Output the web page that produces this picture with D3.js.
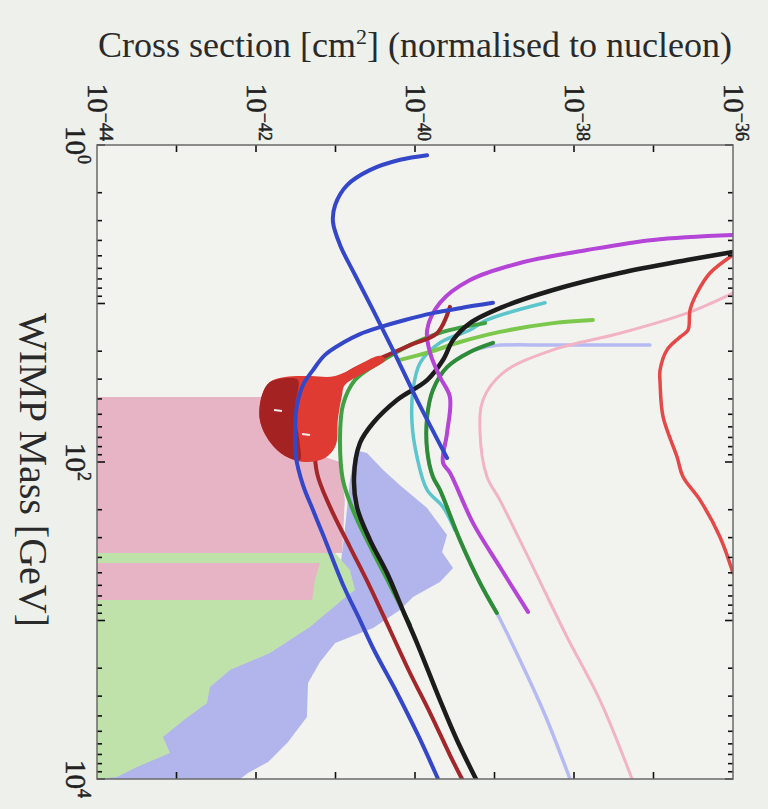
<!DOCTYPE html>
<html>
<head>
<meta charset="utf-8">
<script src="https://cdn.jsdelivr.net/npm/d3@7"></script>
<style>
  body { margin: 0; background: #eef0eb; }
  svg { display: block; font-family: "Liberation Serif", "DejaVu Serif", serif; }
</style>
</head>
<body>
<svg id="chart" width="768" height="809"></svg>
<script>
// every point is [WIMP mass in GeV, cross section in cm^2]
const blueTop = [[1.16,1.42e-40],[1.24,6.5e-41],[1.44,2.7e-41],[1.79,1.4e-41],[2.39,9.9e-42],[3.06,9.3e-42],[4.27,1.14e-41],[6.61,1.76e-41],[11.0,2.97e-41],[19.6,5.28e-41],[40.6,1.06e-40],[67.6,1.79e-40],[94.4,2.53e-40]];
const blueLow = [[9.9,9.57e-40],[10.7,3.68e-40],[11.5,1.68e-40],[12.7,7.48e-41],[14.1,3.63e-41],[15.6,2.03e-41],[17.7,1.24e-41],[21.1,7.38e-42],[26.3,5.21e-42],[32.7,3.9e-42],[43.7,3.28e-42],[62.8,3.1e-42],[93.0,3.18e-42],[140,3.9e-42],[201,5.21e-42],[297,7.16e-42],[615,1.28e-41],[993,2.03e-41],[1535,3.05e-41],[2866,5.94e-41],[5275,1.09e-40],[10000,1.95e-40]];
const maroon = [[10.5,2.75e-40],[15.4,1.89e-40],[18.3,8.65e-41],[21.8,3.95e-41],[27.0,1.52e-41],[35.1,8.53e-42],[47.0,6.38e-42],[72.6,5.52e-42],[117,5.85e-42],[192,8.53e-42],[344,1.52e-41],[615,2.72e-41],[1148,4.85e-41],[2144,8.65e-41],[3835,1.55e-40],[7059,2.75e-40],[10000,3.9e-40]];
const black = [[4.73,1e-36],[5.32,2.64e-37],[6.42,3.79e-38],[8.22,5.45e-39],[10.5,1.28e-39],[13.3,4.92e-40],[17.0,3.01e-40],[22.7,2.25e-40],[30.4,1.42e-40],[40.6,5.94e-41],[56.7,2.97e-41],[75.9,2.03e-41],[124,1.71e-41],[192,1.86e-41],[311,2.72e-41],[502,4.45e-41],[897,7.28e-41],[1387,1.06e-40],[3176,2.06e-40],[5674,3.37e-40],[10000,5.85e-40]];
const purple = [[3.70,1e-36],[3.97,9.86e-38],[4.60,1.46e-38],[5.55,2.09e-39],[7.11,4.92e-40],[9.9,2.06e-40],[14.7,1.42e-40],[20.5,1.55e-40],[29.1,2.06e-40],[38.9,2.75e-40],[65.6,2.53e-40],[101,2.25e-40],[117,2.75e-40],[243,5.37e-40],[460,1.17e-39],[883,2.64e-39]];
const redRight = [[4.94,1e-36],[6.42,5.14e-37],[8.59,3.52e-37],[11.0,2.88e-37],[14.7,2.72e-37],[16.3,2.15e-37],[19.6,1.48e-37],[26.3,1.21e-37],[31.7,1.21e-37],[52.0,1.32e-37],[93.0,1.98e-37],[124,2.35e-37],[174,3.85e-37],[297,6.86e-37],[502,1e-36]];
const pinkLine = [[8.59,1e-36],[11.5,2.64e-37],[15.4,3.79e-38],[19.6,5.45e-39],[27.4,1.28e-39],[40.6,7.16e-40],[65.6,6.58e-40],[124,8.05e-40],[174,1.17e-39],[460,3.05e-39],[1271,8.17e-39],[3176,2.12e-38],[10000,5.37e-38]];
const lavenderLine = [[18.3,9.03e-38],[18.3,2.12e-38],[18.3,4.99e-39],[18.5,9.57e-40],[20.2,4.92e-40],[25.2,2.53e-40],[35.1,1.68e-40],[52.0,1.42e-40],[84.0,1.42e-40],[124,1.68e-40],[150,2.06e-40],[311,3.68e-40],[580,6.58e-40],[897,1.07e-39],[1775,2.09e-39],[3945,4.32e-39],[10000,8.91e-39]];
const darkGreen = [[17.7,9.57e-40],[20.2,4.92e-40],[25.2,2.53e-40],[35.1,1.68e-40],[52.0,1.42e-40],[84.0,1.42e-40],[124,1.68e-40],[150,2.06e-40],[311,3.68e-40],[580,6.58e-40],[897,1.07e-39]];
const cyan = [[9.9,4.32e-39],[12.7,8.05e-40],[14.7,4.92e-40],[17.7,2.06e-40],[23.7,1.16e-40],[35.1,9.44e-41],[56.7,9.17e-41],[93.0,1.06e-40],[150,1.42e-40],[192,2.25e-40],[269,3.18e-40]];
const green = [[13.3,7.6e-40],[15.1,2.25e-40],[18.3,8.65e-41],[23.4,3.63e-41],[30.4,1.76e-41],[43.7,1.24e-41],[72.6,1.14e-41],[130,1.24e-41],[216,1.76e-41],[359,2.88e-41],[597,4.85e-41],[1067,8.65e-41]];
const lightGreen = [[12.7,1.73e-38],[13.3,5.45e-39],[15.1,1.17e-39],[17.5,3.68e-40],[20.2,1.55e-40],[22.7,6.47e-41]];

// filled regions
const lavenderArea = [[84,1.76e-41],[87.7,2.49e-41],[112,3.95e-41],[140,6.47e-41],[195,1.42e-40],[289,2.53e-40],[370,2.19e-40],[467,3.01e-40],[572,2.06e-40],[711,9.44e-41],[859,6.47e-41],[1117,2.97e-41],[1387,9.9e-42],[1828,6.38e-42],[2478,4.51e-42],[4064,4.37e-42],[5845,2.53e-42],[7812,1.42e-42],[9162,7.93e-43],[10000,6.29e-43],[10000,1e-44],[3176,1e-44],[743,8.53e-42],[480,1.14e-41],[269,1.31e-41],[130,1.52e-41]];
const greenArea = [[375,1e-44],[375,9.9e-42],[480,1.52e-41],[642,1.76e-41],[720,1.3e-41],[1099,4.77e-42],[1603,1.5e-42],[2053,4.71e-43],[2630,2.64e-43],[3316,2.42e-43],[4249,1.24e-43],[5433,6.76e-44],[6854,8.28e-44],[8398,3.18e-44],[9711,1.78e-44],[10000,1e-44]];
const pinkArea = [[38.9,1e-44],[38.9,1.3e-42],[60,2e-42],[90,6e-42],[100,1.14e-41],[174,1.31e-41],[375,1.21e-41],[375,1e-44]];
const pinkArea2 = [[434,1e-44],[434,6.4e-42],[555,5.5e-42],[743,5.1e-42],[743,1e-44]];
const redBlob = [[37.8,1.19e-42],[31.3,1.5e-42],[29.1,2.32e-42],[28.7,4.77e-42],[28.7,9.9e-42],[21.4,3.63e-41],[22.7,4.2e-41],[32.7,1.31e-41],[37.8,1.21e-41],[54.3,1.07e-41],[78.1,1.01e-41],[94.4,7.38e-42],[100,4.13e-42],[91.6,2.32e-42],[74.8,1.5e-42],[54.3,1.12e-42]];
const redBlobCore = [[37.8,1.19e-42],[31.3,1.5e-42],[29.5,2.68e-42],[30.4,3.37e-42],[47,3.1e-42],[78.1,3.57e-42],[97,3.57e-42],[91.6,2.32e-42],[74.8,1.5e-42],[54.3,1.12e-42]];
const bestFit = [[47,1.89e-42],[66.6,4.26e-42]];

// axes
const massDomain = [1, 1e4];
const sigmaDomain = [1e-44, 1e-36];
const massLabelExp = [0, 2, 4];
const sigmaLabelExp = [-44, -42, -40, -38, -36];
const sigmaTickExp = [-43, -42, -41, -40, -39, -38, -37];

const svg = d3.select("#chart");
const pLeft = 97, pRight = 733, pTop = 145, pBottom = 779;

const x = d3.scaleLog().domain(sigmaDomain).range([pLeft, pRight]);
const y = d3.scaleLog().domain(massDomain).range([pTop, pBottom]);

const defs = svg.append("defs");
defs.append("clipPath").attr("id", "plot").append("rect")
  .attr("x", pLeft).attr("y", pTop).attr("width", pRight - pLeft).attr("height", pBottom - pTop);
defs.append("filter").attr("id", "soft").append("feGaussianBlur").attr("stdDeviation", 0.6);

svg.append("rect").attr("x", pLeft).attr("y", pTop)
  .attr("width", pRight - pLeft).attr("height", pBottom - pTop)
  .attr("fill", "#f2f3ef");

const g = svg.append("g").attr("clip-path", "url(#plot)")
  .append("g").attr("filter", "url(#soft)");

const area = d3.line().x(d => x(d[1])).y(d => y(d[0])).curve(d3.curveLinearClosed);
const blob = d3.line().x(d => x(d[1])).y(d => y(d[0])).curve(d3.curveCatmullRomClosed.alpha(0.5));
const line = d3.line().x(d => x(d[1])).y(d => y(d[0])).curve(d3.curveCatmullRom.alpha(0.5));

g.append("path").attr("d", area(lavenderArea)).attr("fill", "#b1b5eb");
g.append("path").attr("d", area(greenArea)).attr("fill", "#bfe2ab");
g.append("path").attr("d", area(pinkArea)).attr("fill", "#e6b4c4");
g.append("path").attr("d", area(pinkArea2)).attr("fill", "#e6b4c4");

const curves = [
  [lavenderLine, "#b6baf2", 3.5],
  [pinkLine, "#f2b4c4", 3],
  [redRight, "#e64646", 3.5],
  [cyan, "#5cc6cc", 3.5],
  [darkGreen, "#2f8c38", 4],
  [lightGreen, "#7cc84e", 4],
  [green, "#3fa042", 4],
  [black, "#1c1c1c", 4.5],
  [purple, "#b444d6", 4],
  [maroon, "#a3282a", 4]
];
curves.forEach(([data, color, w]) => {
  g.append("path").attr("d", line(data)).attr("fill", "none")
    .attr("stroke", color).attr("stroke-width", w)
    .attr("stroke-linecap", "round").attr("stroke-linejoin", "round");
});

g.append("path").attr("d", blob(redBlob)).attr("fill", "#df3a32");
g.append("path").attr("d", blob(redBlobCore)).attr("fill", "#a52424");

[[blueLow, "#3547c9"], [blueTop, "#3547c9"]].forEach(([data, color]) => {
  g.append("path").attr("d", line(data)).attr("fill", "none")
    .attr("stroke", color).attr("stroke-width", 4)
    .attr("stroke-linecap", "round");
});

g.selectAll(".fit").data(bestFit).enter().append("line")
  .attr("x1", d => x(d[1]) - 4).attr("x2", d => x(d[1]) + 4)
  .attr("y1", d => y(d[0])).attr("y2", d => y(d[0]) + 1)
  .attr("stroke", "#f4eaea").attr("stroke-width", 2);

// ticks: minor ticks on the mass sides, decade ticks on the cross section sides
const massTicks = y.ticks();
const isDecade = v => Math.abs(Math.log10(v) - Math.round(Math.log10(v))) < 1e-9;
const ticks = svg.append("g").attr("stroke", "#111").attr("stroke-width", 1.6);
[[pLeft, 1], [pRight, -1]].forEach(([x0, dir]) => {
  ticks.selectAll(null).data(massTicks).enter().append("line")
    .attr("x1", x0).attr("x2", d => x0 + dir * (isDecade(d) ? 8 : 5))
    .attr("y1", d => y(d)).attr("y2", d => y(d));
});
const sigmaTicks = sigmaTickExp.map(e => Math.pow(10, e));
[[pTop, 1], [pBottom, -1]].forEach(([y0, dir]) => {
  ticks.selectAll(null).data(sigmaTicks).enter().append("line")
    .attr("y1", y0).attr("y2", y0 + dir * 7)
    .attr("x1", d => x(d)).attr("x2", d => x(d));
});

svg.append("rect").attr("x", pLeft).attr("y", pTop)
  .attr("width", pRight - pLeft).attr("height", pBottom - pTop)
  .attr("fill", "none").attr("stroke", "#6a6a6a").attr("stroke-width", 1.5);

// rotated tick labels: 10 with a superscript exponent
function powerLabel(tx, ty, exp, anchor) {
  const t = svg.append("text")
    .attr("transform", `translate(${tx},${ty}) rotate(90)`)
    .attr("text-anchor", anchor).attr("font-size", 29).attr("fill", "#222")
    .attr("stroke", "#222").attr("stroke-width", 0.5);
  t.append("tspan").text("10");
  t.append("tspan").attr("dy", -12).attr("font-size", 18).text(String(exp).replace("-", "\u2212"));
}
sigmaLabelExp.forEach(e => powerLabel(x(Math.pow(10, e)) - 9, 141, e, "end"));
massLabelExp.forEach(e => powerLabel(66, y(Math.pow(10, e)), e, "middle"));

// axis titles
const title = svg.append("text").attr("x", 415).attr("y", 57)
  .attr("text-anchor", "middle").attr("font-size", 36).attr("fill", "#2a2a2a");
title.append("tspan").text("Cross section [cm");
title.append("tspan").attr("dy", -13).attr("font-size", 22).text("2");
title.append("tspan").attr("dy", 13).text("] (normalised to nucleon)");

svg.append("text")
  .attr("transform", `translate(20,470) rotate(90)`)
  .attr("text-anchor", "middle").attr("font-size", 40).attr("fill", "#2a2a2a")
  .text("WIMP Mass [GeV]");
</script>
</body>
</html>
